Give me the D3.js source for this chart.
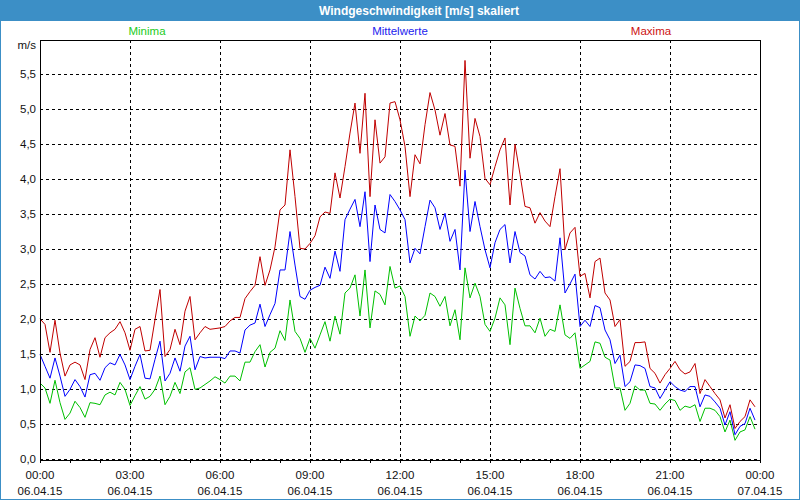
<!DOCTYPE html>
<html>
<head>
<meta charset="utf-8">
<script src="https://cdn.jsdelivr.net/npm/d3@7"></script>
<style>
html,body{margin:0;padding:0;background:#fff;}
svg{display:block;}
text{font-family:"Liberation Sans",Arial,sans-serif;}
</style>
</head>
<body>
<svg id="chart" width="800" height="500"></svg>
<script>
// ---- data (10-minute values, 06.04.15 00:00 .. 23:50) ----
const maxima = [2.00,1.92,1.52,1.98,1.51,1.18,1.34,1.38,1.34,1.13,1.56,1.73,1.45,1.73,1.80,1.85,1.96,1.80,1.55,1.85,
1.89,1.54,1.55,1.99,2.42,1.46,1.56,1.85,1.63,2.11,2.32,1.70,1.80,1.89,1.85,1.86,1.87,1.89,1.97,2.02,
2.02,2.29,2.39,2.48,2.89,2.48,2.70,3.03,3.56,3.63,4.42,3.75,3.01,3.00,3.08,3.19,3.46,3.53,3.51,4.09,
3.73,4.18,4.66,5.09,4.37,5.23,3.75,4.85,4.23,4.32,5.09,5.11,4.85,4.47,3.75,4.35,4.22,4.78,5.24,4.99,
4.63,4.94,4.49,4.47,3.90,5.70,4.30,4.87,4.61,4.01,3.92,4.18,4.42,4.59,3.63,4.50,4.07,3.61,3.59,3.37,
3.52,3.40,3.32,3.75,4.15,2.99,3.23,3.31,2.61,2.65,2.30,2.82,2.87,2.37,2.27,1.89,1.99,1.32,1.39,1.66,
1.66,1.67,1.29,1.22,1.08,1.20,1.29,1.39,1.27,1.21,1.24,1.36,0.93,1.13,1.03,0.93,0.84,0.58,0.77,0.43,
0.53,0.60,0.84,0.74];
const mittelwerte = [1.49,1.32,1.15,1.44,1.18,0.89,0.99,1.13,1.03,0.88,1.20,1.22,1.12,1.30,1.37,1.34,1.49,1.34,1.13,1.32,
1.49,1.15,1.14,1.42,1.68,1.11,1.22,1.44,1.25,1.61,1.75,1.27,1.46,1.44,1.45,1.45,1.45,1.43,1.54,1.54,
1.51,1.84,1.91,1.94,2.21,1.89,2.06,2.22,2.70,2.70,3.25,2.77,2.32,2.28,2.41,2.45,2.48,2.74,2.58,2.97,
2.68,3.42,3.57,3.71,3.32,3.82,2.82,3.63,3.28,3.23,3.78,3.68,3.56,3.42,2.80,3.01,2.93,3.32,3.70,3.59,
3.28,3.51,3.11,3.28,2.70,4.13,3.25,3.68,3.32,2.99,2.73,3.09,3.28,3.35,2.80,3.25,2.95,2.90,2.63,2.57,
2.68,2.59,2.60,2.54,3.16,2.37,2.50,2.64,1.89,1.98,1.89,2.19,2.16,1.84,1.70,1.36,1.48,1.03,1.10,1.34,
1.33,1.29,1.03,1.01,0.86,0.98,1.10,1.03,0.98,0.96,1.03,1.03,0.74,0.91,0.89,0.81,0.72,0.48,0.67,0.34,
0.46,0.50,0.72,0.55];
const minima = [1.08,1.01,0.79,1.12,0.80,0.56,0.65,0.82,0.73,0.59,0.80,0.79,0.77,0.91,0.95,0.91,1.09,0.99,0.76,0.90,
1.03,0.85,0.89,0.99,1.18,0.77,0.89,1.09,0.93,1.24,1.30,0.99,1.01,1.06,1.11,1.17,1.13,1.08,1.18,1.18,
1.11,1.38,1.38,1.53,1.63,1.31,1.52,1.58,1.83,1.69,2.27,1.82,1.72,1.52,1.72,1.58,1.77,1.96,1.68,2.04,
1.78,2.37,2.44,2.63,2.04,2.70,1.87,2.40,2.35,2.20,2.75,2.44,2.47,2.32,1.75,2.04,1.97,2.05,2.37,2.32,
2.18,2.32,1.90,2.13,1.70,2.73,2.30,2.51,2.32,1.92,1.82,2.01,2.30,2.20,1.63,2.44,2.15,1.90,1.90,1.80,
2.01,1.75,1.85,1.82,2.20,1.77,1.72,1.80,1.29,1.34,1.39,1.67,1.65,1.45,1.41,1.01,1.01,0.69,0.79,1.04,
0.98,0.98,0.79,0.78,0.69,0.78,0.85,0.83,0.69,0.75,0.73,0.77,0.53,0.72,0.72,0.69,0.60,0.38,0.55,0.26,
0.38,0.41,0.60,0.42];
const seriesNames = ["Minima","Mittelwerte","Maxima"];
const yTicks = [0,0.5,1,1.5,2,2.5,3,3.5,4,4.5,5,5.5];
const startTime = new Date(2015,3,6,0,0);
const endTime = new Date(2015,3,7,0,0);
const stepMinutes = 10;
const title = "Windgeschwindigkeit [m/s] skaliert";
const unit = "m/s";

// ---- layout ----
const W = 800, H = 500;
const L = 40, R = 760, T = 40, B = 460;
const svg = d3.select("#chart");
const blue = "#3c8fc6";

svg.append("rect").attr("x",0).attr("y",0).attr("width",W).attr("height",H).attr("fill","#fff");
svg.append("rect").attr("x",0.5).attr("y",0.5).attr("width",W-1).attr("height",H-1)
  .attr("fill","none").attr("stroke",blue);
svg.append("rect").attr("x",0).attr("y",0).attr("width",W).attr("height",21).attr("fill",blue);
svg.append("text").attr("x",419).attr("y",15).attr("text-anchor","middle")
  .attr("fill","#fff").attr("font-weight","bold").attr("font-size","12px").text(title);

const x = d3.scaleTime().domain([startTime,endTime]).range([L,R]);
const y = d3.scaleLinear().domain([0,6]).range([458.5,39.5]);

const times = maxima.map((d,i)=> new Date(startTime.getTime()+i*stepMinutes*60000));

// grid
const g = svg.append("g");
g.selectAll("line.hg").data(yTicks).join("line")
  .attr("x1",L).attr("x2",R).attr("y1",d=>Math.round(y(d))+0.5).attr("y2",d=>Math.round(y(d))+0.5)
  .attr("stroke","#000").attr("stroke-dasharray","3,3").attr("shape-rendering","crispEdges");
const vTicks = x.ticks(d3.timeHour.every(3));
g.selectAll("line.vg").data(vTicks.slice(1,-1)).join("line")
  .attr("x1",d=>Math.round(x(d))+0.5).attr("x2",d=>Math.round(x(d))+0.5).attr("y1",T).attr("y2",B)
  .attr("stroke","#000").attr("stroke-dasharray","3,3").attr("shape-rendering","crispEdges");

// hour ticks below axis
const hourTicks = x.ticks(d3.timeHour.every(1));
g.selectAll("line.ht").data(hourTicks).join("line")
  .attr("x1",d=>Math.round(x(d))+0.5).attr("x2",d=>Math.round(x(d))+0.5).attr("y1",B).attr("y2",B+3)
  .attr("stroke","#000").attr("shape-rendering","crispEdges");

// series
const line = d3.line().x((d,i)=>x(times[i])).y(d=>y(d));
const colors = {Minima:"#00c000", Mittelwerte:"#0000ff", Maxima:"#c00000"};
[[minima,"Minima"],[mittelwerte,"Mittelwerte"],[maxima,"Maxima"]].forEach(([arr,name])=>{
  svg.append("path").datum(arr).attr("d",line).attr("fill","none")
    .attr("stroke",colors[name]).attr("stroke-width",1);
});

// frame
svg.append("rect").attr("x",L+0.5).attr("y",T+0.5).attr("width",R-L).attr("height",B-T)
  .attr("fill","none").attr("stroke","#000").attr("shape-rendering","crispEdges");

// y labels
svg.selectAll("text.yl").data(yTicks).join("text")
  .attr("x",36).attr("y",d=>y(d)+4).attr("text-anchor","end").attr("font-size","11.5px").attr("fill","#111")
  .text(d=>d3.format(".1f")(d).replace(".",","));
svg.append("text").attr("x",36).attr("y",49).attr("text-anchor","end").attr("font-size","11.5px").attr("fill","#111").text(unit);

// x labels
const fT = d3.timeFormat("%H:%M"), fD = d3.timeFormat("%d.%m.%y");
svg.selectAll("text.xt").data(vTicks).join("text")
  .attr("x",d=>x(d)).attr("y",479).attr("text-anchor","middle").attr("font-size","11.5px").attr("fill","#111").text(fT);
svg.selectAll("text.xd").data(vTicks).join("text")
  .attr("x",d=>x(d)).attr("y",495).attr("text-anchor","middle").attr("font-size","11.5px").attr("fill","#111").text(fD);

// legend labels
const legendX = {Minima:147, Mittelwerte:400, Maxima:651};
const legendColors = {Minima:"#22cc22", Mittelwerte:"#2222ee", Maxima:"#cc1111"};
svg.selectAll("text.lg").data(seriesNames).join("text")
  .attr("x",d=>legendX[d]).attr("y",35).attr("text-anchor","middle").attr("font-size","11.5px")
  .attr("fill",d=>legendColors[d]).text(d=>d);
</script>
</body>
</html>
